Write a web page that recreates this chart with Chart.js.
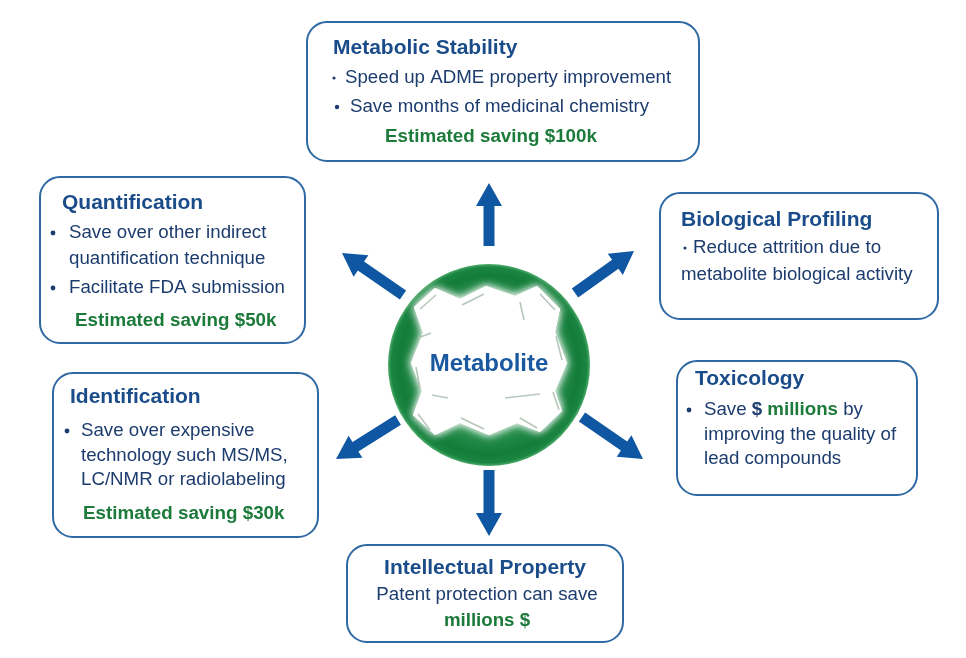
<!DOCTYPE html>
<html>
<head>
<meta charset="utf-8">
<script src="https://cdn.jsdelivr.net/npm/chart.js@4/dist/chart.umd.min.js"></script>
<style>
  html,body{margin:0;padding:0;background:#fff;}
  #wrap{width:966px;height:658px;position:relative;}
</style>
</head>
<body>
<div id="wrap"><canvas id="c" width="966" height="658"></canvas></div>
<script>
// ---- content (text) ----
const categories = ['Metabolic Stability','Quantification','Biological Profiling','Toxicology','Identification','Intellectual Property'];
const bulletLines = [
  ['Speed up ADME property improvement','Save months of medicinal chemistry'],
  ['Save over other indirect','quantification technique','Facilitate FDA submission'],
  ['Reduce attrition due to','metabolite biological activity'],
  ['Save | $ | millions | by','improving the quality of','lead compounds'],
  ['Save over expensive','technology such MS/MS,','LC/NMR or radiolabeling'],
  ['Patent protection can save','millions $']
];
const bulletFlags = [
  [1,1],
  [1,0,1],
  [1,0],
  [1,0,0],
  [1,0,0],
  [0,0]
];
const savings = ['Estimated saving $100k','Estimated saving $50k',null,null,'Estimated saving $30k',null];
const centerLabel = 'Metabolite';

// ---- layout (positions / sizes) ----
const boxRects = [[307,22,699,161],[40,177,305,343],[660,193,938,319],[677,361,917,495],[53,373,318,537],[347,545,623,642]];
const titlePos = [[333,48],[62,203],[681,220],[695,379],[70,397],[485,568,'c']];
const linePos = [
  [[345,78,334,1.6],[350,107,337,2.2]],
  [[69,233,53,2.4],[69,259],[69,288,53,2.4]],
  [[693,248,685,1.6],[681,275]],
  [[704,410,689,2.4],[704,435],[704,459]],
  [[81,431,67,2.4],[81,456],[81,480]],
  [[487,595,null,0,'c'],[487,621,null,0,'c']]
];
const savingPos = [[385,137],[75,321],null,null,[83,514],null];
const arrows = [[489,246,489,183],[403,295,342,253],[575,293,634,251],[398,420,336,459],[582,417,643,459],[489,470,489,536]];
const circle = [489,365,101];

const NAVY = '#1d3c6e', TITLE = '#1b4c8a', GREEN = '#1c7a3a', BORDER = '#2f69a4', ARROW = '#0f56a3';
const FONT = '"Liberation Sans", Arial, sans-serif';

function drawDiagram(chart){
  const ctx = chart.ctx, xs = chart.scales.x, ys = chart.scales.y;
  const X = v => xs.getPixelForValue(v), Y = v => ys.getPixelForValue(v);
  ctx.save();
  // arrows
  arrows.forEach(a => {
    const x0=X(a[0]), y0=Y(a[1]), x1=X(a[2]), y1=Y(a[3]);
    const dx=x1-x0, dy=y1-y0, L=Math.hypot(dx,dy), ux=dx/L, uy=dy/L, nx=-uy, ny=ux;
    const sw=5.5, hw=13, hl=23;
    const bx=x1-ux*hl, by=y1-uy*hl;
    ctx.beginPath();
    ctx.moveTo(x0+nx*sw,y0+ny*sw);
    ctx.lineTo(bx+nx*sw,by+ny*sw);
    ctx.lineTo(bx+nx*hw,by+ny*hw);
    ctx.lineTo(x1,y1);
    ctx.lineTo(bx-nx*hw,by-ny*hw);
    ctx.lineTo(bx-nx*sw,by-ny*sw);
    ctx.lineTo(x0-nx*sw,y0-ny*sw);
    ctx.closePath();
    ctx.fillStyle = ARROW; ctx.fill();
  });
  // circle
  const cx=X(circle[0]), cy=Y(circle[1]), r=Math.abs(X(circle[0]+circle[2])-cx);
  const g = ctx.createRadialGradient(cx,cy,r*0.2,cx,cy,r);
  g.addColorStop(0,'#5fb57a'); g.addColorStop(0.6,'#2a9150'); g.addColorStop(0.86,'#137c39'); g.addColorStop(0.96,'#1a8642'); g.addColorStop(1,'#50ab6b');
  ctx.beginPath(); ctx.arc(cx,cy,r,0,Math.PI*2); ctx.fillStyle=g; ctx.fill();
  // molecule (white fused rings)
  const poly=[[414,307],[435,288],[460,299],[486,286],[515,296],[537,286],[560,309],[555,332],[567,363],[555,391],[562,411],[540,432],[517,423],[489,435],[460,423],[435,435],[413,415],[422,391],[411,363],[423,333]];
  ctx.save();
  ctx.shadowColor='rgba(255,255,255,0.85)'; ctx.shadowBlur=8;
  ctx.beginPath(); poly.forEach((p,i)=>{ i?ctx.lineTo(X(p[0]),Y(p[1])):ctx.moveTo(X(p[0]),Y(p[1])); }); ctx.closePath();
  ctx.fillStyle='#ffffff'; ctx.fill(); ctx.fill();
  ctx.restore();
  // bond lines
  ctx.strokeStyle='rgba(170,190,175,0.85)'; ctx.lineWidth=1.6;
  const bonds=[[[420,309],[436,295]],[[462,305],[484,294]],[[520,302],[524,320]],[[540,294],[555,310]],[[418,338],[431,333]],[[556,336],[562,360]],[[420,388],[416,367]],[[553,392],[559,410]],[[430,430],[418,414]],[[461,418],[484,429]],[[520,418],[537,428]],[[432,395],[448,398]],[[505,398],[540,394]]];
  bonds.forEach(b=>{ctx.beginPath();ctx.moveTo(X(b[0][0]),Y(b[0][1]));ctx.lineTo(X(b[1][0]),Y(b[1][1]));ctx.stroke();});
  // center label
  ctx.fillStyle='#1a59a0'; ctx.font='bold 24px '+FONT; ctx.textAlign='center'; ctx.textBaseline='middle';
  ctx.fillText(centerLabel, cx, Y(364));

  // boxes
  boxRects.forEach((b,i)=>{
    const x0=X(b[0]), y0=Y(b[1]), x1=X(b[2]), y1=Y(b[3]);
    ctx.beginPath(); ctx.roundRect(x0,y0,x1-x0,y1-y0,20);
    ctx.fillStyle='#ffffff'; ctx.fill();
    ctx.lineWidth=2; ctx.strokeStyle=BORDER; ctx.stroke();
    // title
    const tp=titlePos[i];
    ctx.font='bold 21px '+FONT; ctx.fillStyle=TITLE; ctx.textBaseline='middle';
    ctx.textAlign = tp[2]==='c' ? 'center':'left';
    ctx.fillText(categories[i], X(tp[0]), Y(tp[1]));
    // lines
    bulletLines[i].forEach((txt,j)=>{
      const lp=linePos[i][j];
      if(bulletFlags[i][j] && lp[2]!=null){
        ctx.beginPath(); ctx.arc(X(lp[2]),Y(lp[1]),lp[3],0,Math.PI*2); ctx.fillStyle=NAVY; ctx.fill();
      }
      let runs;
      if(i===3 && j===0){
        const parts=txt.split('|');
        runs=[{t:parts[0],b:0,c:NAVY},{t:parts[1].trim(),b:1,c:NAVY},{t:' '+parts[2].trim(),b:1,c:GREEN},{t:' '+parts[3].trim(),b:0,c:NAVY}];
      } else if(i===5 && j===1){
        runs=[{t:txt,b:1,c:GREEN}];
      } else runs=[{t:txt,b:0,c:NAVY}];
      const fontOf = r => (r.b?'bold ':'')+'18.7px '+FONT;
      let total=0; runs.forEach(r=>{ctx.font=fontOf(r); total+=ctx.measureText(r.t).width;});
      let x = lp[4]==='c' ? X(lp[0])-total/2 : X(lp[0]);
      ctx.textAlign='left';
      runs.forEach(r=>{ctx.font=fontOf(r); ctx.fillStyle=r.c; ctx.fillText(r.t,x,Y(lp[1])); x+=ctx.measureText(r.t).width;});
    });
    if(savings[i]){
      const sp=savingPos[i];
      ctx.font='bold 18.8px '+FONT; ctx.fillStyle=GREEN; ctx.textAlign='left';
      ctx.fillText(savings[i], X(sp[0]), Y(sp[1]));
    }
  });
  ctx.restore();
}

new Chart(document.getElementById('c'), {
  type: 'scatter',
  data: { datasets: [{ data: boxRects.map(b=>({x:(b[0]+b[2])/2, y:(b[1]+b[3])/2})), pointRadius: 0, showLine:false }] },
  options: {
    responsive: false, animation: false, events: [],
    layout: { padding: 0 },
    plugins: { legend: {display:false}, tooltip: {enabled:false} },
    scales: {
      x: { type:'linear', min:0, max:966, display:false },
      y: { type:'linear', min:0, max:658, reverse:true, display:false }
    }
  },
  plugins: [{ id:'diagram', afterDatasetsDraw: drawDiagram }]
});
</script>
</body>
</html>
